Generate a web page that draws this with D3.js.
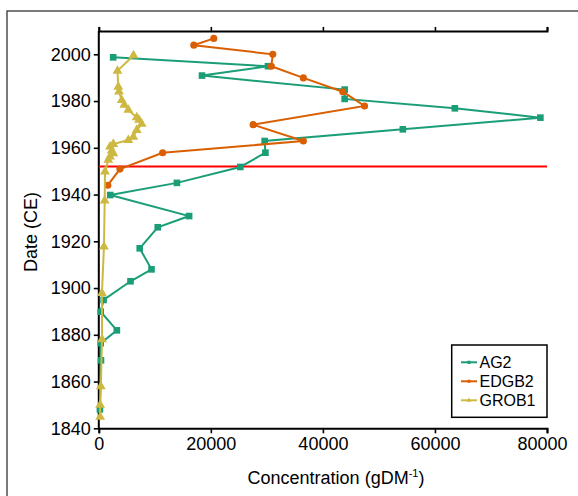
<!DOCTYPE html>
<html>
<head>
<meta charset="utf-8">
<script src="https://cdn.jsdelivr.net/npm/d3@7"></script>
<style>
  body { margin: 0; background: #fff; }
  svg { display: block; font-family: "Liberation Sans", Arial, sans-serif; }
</style>
</head>
<body>
<div id="chart"></div>
<script>
// series data (date CE, concentration)
const ag2Years = [1998.7, 1994.9, 1990.9, 1984.9, 1980.9, 1976.9, 1972.9, 1967.9, 1962.9, 1957.9, 1951.8, 1945, 1939.8, 1930.8, 1926, 1917, 1908, 1902.9, 1894.9, 1889.9, 1881.9, 1876.4, 1869.1, 1848.1];
const ag2Values = [2566, 30197, 18421, 43882, 43882, 63553, 78816, 54276, 29605, 29737, 25263, 13947, 2039, 16118, 10526, 7303, 9408, 5658, 855, 340, 3224, 340, 390, 200];

const edgb2Years = [2006.8, 2003.9, 2000, 1994.9, 1989.9, 1984, 1977.9, 1969.9, 1962.9, 1957.9, 1950.9, 1944];
const edgb2Values = [20520, 16960, 31050, 30800, 36513, 43553, 47434, 27550, 36513, 11400, 3770, 1610];

const grob1Years = [1999.5, 1992.9, 1986.1, 1984, 1980.4, 1978.3, 1976.2, 1973, 1971.9, 1970.2, 1967.6, 1964.7, 1963.3, 1961.6, 1960.5, 1958.8, 1957.6, 1956.2, 1954.8, 1949.8, 1937.4, 1917.7, 1897.8, 1878, 1857.9, 1850, 1844.9];
const grob1Values = [6200, 3330, 3480, 3610, 4090, 4550, 5270, 6770, 7180, 7660, 6770, 6160, 5270, 2590, 2000, 2300, 2590, 2000, 1700, 1110, 1050, 920, 560, 580, 360, 240, 240];

const xTicks = [0, 20000, 40000, 60000, 80000];
const yTicks = [1840, 1860, 1880, 1900, 1920, 1940, 1960, 1980, 2000];
const refYear = 1952;

const series = [
  { name: "AG2", years: ag2Years, values: ag2Values, color: "#1b9e77", symbol: d3.symbolSquare, size: 44 },
  { name: "EDGB2", years: edgb2Years, values: edgb2Values, color: "#d95f02", symbol: d3.symbolCircle, size: 40 },
  { name: "GROB1", years: grob1Years, values: grob1Values, color: "#cdb942", symbol: d3.symbolTriangle, size: 42 }
];

const W = 578, H = 496;
const plotLeft = 98.8, plotRight = 547, plotBottom = 428.3;

const svg = d3.select("#chart").append("svg")
  .attr("width", W).attr("height", H);

// outer frame (runs off the right and bottom edges)
svg.append("rect")
  .attr("x", 7).attr("y", 11)
  .attr("width", W + 20).attr("height", H + 20)
  .attr("fill", "none").attr("stroke", "#333").attr("stroke-width", 1.3);

const x = d3.scaleLinear().domain([0, 80000]).range([plotLeft, plotRight]);
const y = d3.scaleLinear().domain([1840, 2010]).range([plotBottom, plotBottom - (2010 - 1840) * 2.3375]);

// axes
const xAxis = svg.append("g")
  .attr("transform", "translate(0," + plotBottom + ")")
  .call(d3.axisBottom(x).tickValues(xTicks).tickSize(5).tickPadding(4).tickFormat(d3.format("d")));

const xTop = svg.append("g")
  .attr("transform", "translate(0," + y(2010) + ")")
  .call(d3.axisTop(x).tickValues(xTicks).tickSize(4).tickFormat(""));

const yAxis = svg.append("g")
  .attr("transform", "translate(" + plotLeft + ",0)")
  .call(d3.axisLeft(y).tickValues(yTicks).tickSize(5).tickPadding(3).tickFormat(d3.format("d")));

[xAxis, xTop, yAxis].forEach(g => {
  g.select(".domain").attr("stroke", "#000").attr("stroke-width", 2);
  g.selectAll(".tick line").attr("stroke", "#000").attr("stroke-width", 1.6);
  g.selectAll("text").attr("fill", "#000").style("font-size", "18px")
    .style("font-family", "'Liberation Sans', Arial, sans-serif");
});
yAxis.select(".domain").attr("d", "M0," + y(2010) + "V" + plotBottom);
// last bottom label sits a little left of its tick, as in the original
xAxis.selectAll(".tick text").filter(d => d === 80000).attr("dx", -5);

// reference line
svg.append("line")
  .attr("x1", x(0)).attr("x2", x(80000))
  .attr("y1", y(refYear)).attr("y2", y(refYear))
  .attr("stroke", "#ff0000").attr("stroke-width", 2);

// lines and markers
const line = d3.line().x(d => x(d[1])).y(d => y(d[0]));

series.forEach(s => {
  const pts = s.years.map((yr, i) => [yr, s.values[i]]);
  svg.append("path")
    .datum(pts)
    .attr("d", line)
    .attr("fill", "none")
    .attr("stroke", s.color)
    .attr("stroke-width", 2);
  svg.append("g").selectAll("path")
    .data(pts)
    .enter()
    .append("path")
    .attr("d", d3.symbol().type(s.symbol).size(s.size))
    .attr("transform", d => "translate(" + x(d[1]) + "," + y(d[0]) + ")")
    .attr("fill", s.color);
});

// axis titles
svg.append("text")
  .attr("transform", "translate(37,232) rotate(-90)")
  .attr("text-anchor", "middle")
  .style("font-size", "18px")
  .text("Date (CE)");

const xt = svg.append("text")
  .attr("x", 336).attr("y", 484)
  .attr("text-anchor", "middle")
  .style("font-size", "18px");
xt.append("tspan").text("Concentration (gDM");
xt.append("tspan").attr("dy", -7).style("font-size", "11px").text("-1");
xt.append("tspan").attr("dy", 7).text(")");

// legend
const lg = svg.append("g");
lg.append("rect")
  .attr("x", 451.7).attr("y", 345)
  .attr("width", 95.3).attr("height", 72.3)
  .attr("fill", "#fff").attr("stroke", "#000").attr("stroke-width", 1.5);

series.forEach((s, i) => {
  const ly = 362.3 + i * 19;
  lg.append("line")
    .attr("x1", 461).attr("x2", 477)
    .attr("y1", ly).attr("y2", ly)
    .attr("stroke", s.color).attr("stroke-width", 2);
  lg.append("path")
    .attr("d", d3.symbol().type(s.symbol).size(10))
    .attr("transform", "translate(469," + ly + ")")
    .attr("fill", s.color);
  lg.append("text")
    .attr("x", 479.5).attr("y", ly + 6)
    .style("font-size", "16px")
    .text(s.name);
});
</script>
</body>
</html>
